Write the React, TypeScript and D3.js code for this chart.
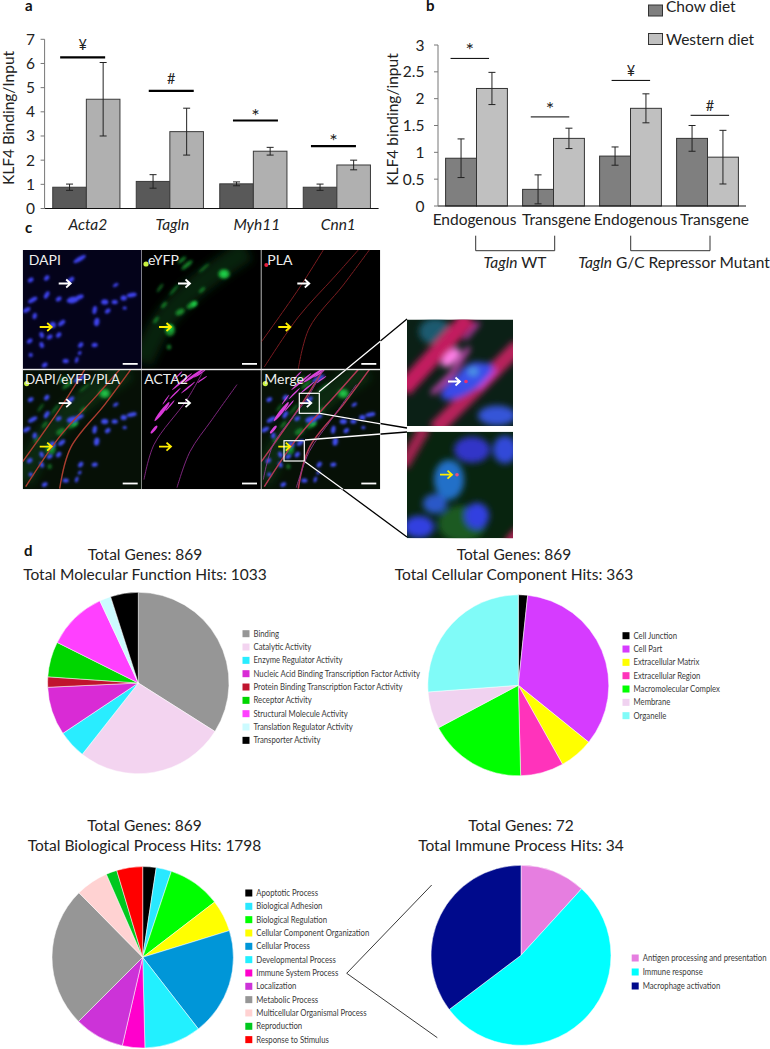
import React from "react";
import * as d3 from "d3";

// ---------- data ----------
const genesA = ["Acta2", "Tagln", "Myh11", "Cnn1"];
const chowA = [0.88, 1.12, 1.02, 0.88];
const westernA = [4.52, 3.18, 2.37, 1.8];
const chowErrA = [0.13, 0.28, 0.08, 0.13];
const westernErrA = [1.52, 0.97, 0.16, 0.2];
const sigA = ["¥", "#", "*", "*"];
const sigLevelA = [6.25, 4.87, 3.64, 2.58];

const groupsB = ["Endogenous", "Transgene", "Endogenous ", "Transgene "];
const chowB = [0.89, 0.31, 0.93, 1.26];
const westernB = [2.19, 1.26, 1.82, 0.91];
const chowErrB = [0.36, 0.27, 0.17, 0.24];
const westernErrB = [0.3, 0.19, 0.27, 0.5];
const sigB = ["*", "*", "¥", "#"];
const sigLevelB = [2.75, 1.66, 2.34, 1.69];

const mfNames = ["Binding", "Catalytic Activity", "Enzyme Regulator Activity", "Nucleic Acid Binding Transcription Factor Activity", "Protein Binding Transcription Factor Activity", "Receptor Activity", "Structural Molecule Activity", "Translation Regulator Activity", "Transporter Activity"];
const mfHits = [351, 275, 52, 89, 19, 65, 110, 21, 51];
const mfColors = ["#969696", "#f3d4f0", "#29edff", "#d92bd5", "#c0142e", "#00d600", "#ff40ff", "#ccfbff", "#000000"];

const ccNames = ["Cell Junction", "Cell Part", "Extracellular Matrix", "Extracellular Region", "Macromolecular Complex", "Membrane", "Organelle"];
const ccHits = [6, 124, 22, 28, 64, 24, 95];
const ccColors = ["#000000", "#d63bff", "#ffff00", "#ff33bb", "#00ff00", "#f0d2f0", "#80fbf8"];

const bpNames = ["Apoptotic Process", "Biological Adhesion", "Biological Regulation", "Cellular Component Organization", "Cellular Process", "Developmental Process", "Immune System Process", "Localization", "Metabolic Process", "Multicellular Organismal Process", "Reproduction", "Response to Stimulus"];
const bpHits = [43, 49, 170, 102, 346, 182, 72, 160, 451, 105, 35, 83];
const bpColors = ["#000000", "#2ae8ff", "#00ff00", "#ffff00", "#0096d8", "#22f0ff", "#ff00cc", "#cc33d8", "#969696", "#ffd2d2", "#00c81e", "#ff0000"];

const imNames = ["Antigen processing and presentation", "Immune response", "Macrophage activation"];
const imHits = [4, 18, 12];
const imColors = ["#e67ee0", "#00ffff", "#000a8c"];

// micrograph blobs: x, y, rx, ry, rotation (panel units)
type Blob = number[];
const nuclei: Blob[] = [[57,9,7,2,-30],[8,30,3,2,-30],[24,28,3,2,-50],[48,30,4,2,-40],[24,45,4,2,-60],[10,50,5,2,-30],[36,49,3,2,-30],[50,50,6,3,-10],[57,47,4,2,-20],[82,52,3.5,2.5,0],[92,52,3,2,0],[101,48,3,2.5,0],[109,45,5,2,-10],[93,35,3,1.5,-30],[72,60,2,4,10],[85,61,3,2,-40],[4,60,4,2,-30],[12,66,2,3,10],[30,75,3,3,0],[39,73,4,2,-40],[19,85,2,3,-20],[27,87,3,2,-30],[36,85,3,2,-50],[74,72,2.5,4,10],[58,95,3,2,-50],[72,95,3,2,-10],[57,103,2,1.5,-50],[19,95,2,3,-20],[7,91,3,2,-40],[43,111,3,2,0],[54,110,1.5,3,20],[22,115,3,2,-30],[8,105,2,2,0],[102,58,2,1.5,0]];
const greenBlobs: Blob[] = [[82,24,6,5,0],[50,55,6,3,-30],[38,62,5,3,-30],[28,80,5,6,0],[27,97,2,2.5,0],[45,15,7,2,-40],[22,55,4,1.5,-50],[40,10,5,1.5,-40],[14,70,4,1.5,-55],[60,40,4,1.5,-45],[32,40,7,1,-50],[18,38,5,1,-55],[62,18,7,1,-40]];
const greenBright: Blob[] = [[82,24,3.5,3,0],[52,54,3,2,-30],[28,78,2.5,3,0]];
const greenBand: number[][] = [[0, 112], [22, 70], [50, 40], [105, 0]];
const redCurves: number[][][] = [
  [[0, 92], [38, 38], [62, 0]],
  [[3, 117], [37, 67], [73, 27], [97, 0]],
  [[37, 119], [48, 78], [82, 35], [108, 0]],
];
const magentaStreaks: Blob[] = [[20,42,12,1.8,-52],[12,60,5,1.4,-50],[40,12,13,1,-40],[52,6,12,1.3,-35],[33,24,8,0.7,-45],[46,18,9,0.7,-40],[28,36,7,0.7,-50],[58,4,7,0.7,-35],[36,6,6,0.6,-45],[24,30,6,0.6,-55],[60,10,6,0.6,-35]];
const magentaCurves: number[][][] = [
  [[2, 110], [12, 75], [45, 30], [62, 0]],
  [[35, 118], [48, 82], [70, 50], [95, 15]],
];
const panelTitles = ["DAPI", "eYFP", "PLA", "DAPI/eYFP/PLA", "ACTA2", "Merge"];
const panelTitleX = [6, 6, 6, 2.3, 2.3, 3];

// ---------- layout helpers ----------
const font = "Lato, 'Open Sans', sans-serif";
const curve = d3.line<number[]>().x(d => d[0]).y(d => d[1]).curve(d3.curveCatmullRom);

function Bars(p: any) {
  const y = d3.scaleLinear().domain([0, p.max]).range([p.y0, p.y1]);
  const x0 = d3.scaleBand<string>().domain(p.cats).range([p.x0, p.x1]);
  const bw = p.barW;
  const ticks = d3.range(0, p.max + 0.001, p.step);
  return (
    <g fontFamily={font}>
      {p.cats.map((c: string, i: number) => {
        const cx = x0(c)! + x0.bandwidth() / 2;
        const tops = [p.chow[i], p.west[i]];
        const errs = [p.chowErr[i], p.westErr[i]];
        const star = p.sig[i] === "*";
        return (
          <g key={c}>
            {tops.map((v: number, k: number) => {
              const bx = cx - bw + k * bw;
              return <rect key={k} x={bx} y={y(v)} width={bw} height={p.y0 - y(v)} fill={k ? p.colW : p.colC} stroke={p.barStroke} strokeWidth={p.barSW} />;
            })}
            {tops.map((v: number, k: number) => {
              const ex = cx - bw / 2 + k * bw;
              const up = y(v + errs[k]), dn = y(v - errs[k]);
              return (
                <path key={k} d={`M${ex - 3.5},${up}H${ex + 3.5}M${ex},${up}V${dn}M${ex - 3.5},${dn}H${ex + 3.5}`} stroke="#222" strokeWidth={1} fill="none" />
              );
            })}
            <line x1={cx + p.sigDx[i] - p.sigW / 2} x2={cx + p.sigDx[i] + p.sigW / 2} y1={y(p.sigLevel[i])} y2={y(p.sigLevel[i])} stroke="#000" strokeWidth={p.sigSW} />
            <text x={cx + p.sigDx[i]} y={y(p.sigLevel[i]) + (star ? p.starDy : p.symDy)} textAnchor="middle" fontSize={star ? 20 : 14.5} fill="#222">{p.sig[i]}</text>
          </g>
        );
      })}
      <line x1={p.x0} x2={p.x1} y1={p.y0} y2={p.y0} stroke="#111" strokeWidth={1.2} />
      <line x1={p.x0} x2={p.x0} y1={p.y0} y2={p.y1} stroke="#777" strokeWidth={1} />
      {ticks.map((t: number) => (
        <g key={t}>
          <line x1={p.x0 - 4} x2={p.x0} y1={y(t)} y2={y(t)} stroke="#777" />
          <text x={p.x0 - p.labelGap} y={y(t) + 5.5} textAnchor="end" fontSize={15.5} fill="#222">{t}</text>
        </g>
      ))}
      <text transform={`translate(${p.titleX},${(p.y0 + p.y1) / 2 + p.titleDy}) rotate(-90)`} textAnchor="middle" fontSize={15.5} fill="#222">{p.title}</text>
    </g>
  );
}

function Pie(p: any) {
  const arcs = d3.pie<number>().sort(null)(p.hits);
  const arc = d3.arc<d3.PieArcDatum<number>>().innerRadius(0).outerRadius(p.r);
  return (
    <g fontFamily={font}>
      <text x={p.tx} y={p.ty} textAnchor="middle" fontSize={15.5} fill="#222">{p.t1}</text>
      <text x={p.tx} y={p.ty + 20} textAnchor="middle" fontSize={15.5} fill="#222">{p.t2}</text>
      <g transform={`translate(${p.cx},${p.cy})`}>
        {arcs.map((a, i) => <path key={i} d={arc(a)!} fill={p.colors[i]} stroke="#fff" strokeWidth={0.5} />)}
      </g>
      {p.names.map((n: string, i: number) => (
        <g key={n}>
          <rect x={p.lx} y={p.ly + i * p.step - 3.5} width={7} height={7} fill={p.colors[i]} />
          <text transform={`translate(${p.lx + 11},${p.ly + i * p.step + 3}) scale(0.9,1)`} fontSize={8.6} fill="#3a3a3a">{n}</text>
        </g>
      ))}
    </g>
  );
}

const blobs = (list: Blob[], fill: string, op = 1) =>
  list.map((b, i) => (
    <ellipse key={i} cx={0} cy={0} rx={b[2]} ry={b[3]} fill={fill} opacity={op} transform={`translate(${b[0]},${b[1]}) rotate(${b[4]})`} />
  ));

const Blue = () => (
  <g>
    <g filter="url(#b2)" opacity={0.35}>{blobs(nuclei, "#2a30c0")}</g>
    <g filter="url(#b1)">{blobs(nuclei, "#3a3fe8")}</g>
  </g>
);
const Green = ({ k = 1 }: { k?: number }) => (
  <g>
    <path d={curve(greenBand)!} stroke="#0a3a14" strokeWidth={22} fill="none" opacity={0.6 * k} filter="url(#b3)" />
    <g filter="url(#b15)">{blobs(greenBlobs, "#138a2c", k)}</g>
    <g filter="url(#b15)">{blobs(greenBright, "#1fd24a", k)}</g>
    <circle cx={4} cy={14} r={2.6} fill="#c8f040" filter="url(#b05)" />
  </g>
);
const Red = ({ w = 1, c = "#b3242a" }: { w?: number; c?: string }) => (
  <g filter="url(#b05)">
    {redCurves.map((r, i) => <path key={i} d={curve(r as any)!} stroke={c} strokeWidth={w} fill="none" />)}
  </g>
);
const Magenta = () => (
  <g>
    <g filter="url(#b05)">{blobs(magentaStreaks, "#d838d8")}</g>
    <g filter="url(#b05)">{magentaCurves.map((c, i) => <path key={i} d={curve(c as any)!} stroke="#8a2a8a" strokeWidth={0.9} fill="none" />)}</g>
  </g>
);
const layers = [
  <Blue />,
  <Green />,
  <g><Red w={1} c="#7a1c20" /><circle cx={5} cy={15} r={2} fill="#e8203c" /></g>,
  <g><Green k={0.8} /><Blue /><Red w={1.4} c="#a8302a" /></g>,
  <Magenta />,
  <g><Green k={0.8} /><Blue /><Red w={1.5} c="#b02c50" /><Magenta /></g>,
];

function Arrow({ x, y, c, len = 12 }: any) {
  return <path d={`M${x},${y}H${x + len}M${x + len - 4.5},${y - 4}L${x + len},${y}L${x + len - 4.5},${y + 4}`} stroke={c} strokeWidth={1.8} fill="none" />;
}

const PW = 119.3, PH = 119.6, PX = 22.7, PY = 250;

function Micro() {
  return (
    <g fontFamily={font}>
      {panelTitles.map((t, i) => {
        const px = PX + (i % 3) * PW, py = PY + Math.floor(i / 3) * PH;
        return (
          <g key={t} transform={`translate(${px},${py})`}>
            <g clipPath="url(#panelClip)" style={{ isolation: "isolate" }}>
              <rect width={PW} height={PH} fill={i === 0 ? "#04031a" : i >= 3 && i !== 4 ? "#061006" : "#000"} />
              <g style={{ mixBlendMode: "screen" }}>{layers[i]}</g>
            </g>
            <text x={panelTitleX[i]} y={i >= 3 ? 14 : 15} fontSize={i === 3 ? 13.4 : 14} fill="#eee">{t}</text>
            <Arrow x={i === 5 ? 38 : 36} y={33.5} c="#fff" />
            <Arrow x={17} y={77} c="#ffee00" />
            <rect x={100} y={113} width={15} height={1.8} fill="#fff" />
          </g>
        );
      })}
      <rect x={PX} y={PY + PH - 0.8} width={PW * 3} height={1.4} fill="#eee" />
      <rect x={299.3} y={393.3} width={20} height={20} fill="none" stroke="#fff" strokeWidth={1.2} />
      <rect x={284} y={440.7} width={20.3} height={20.3} fill="none" stroke="#fff" strokeWidth={1.2} />
      {/* connectors */}
      <path d="M319,391.7L407,319M320,413.3L407,428M305,440L407,432M305,461.7L407,537" stroke="#000" strokeWidth={1.3} fill="none" />
      <path d="M319,391.7L380.7,341M320,413.3L380.7,423.8M305,440L380.7,434M305,461.7L343,489.3" stroke="#fff" strokeWidth={1.3} fill="none" />
      {/* inset 1 */}
      <g transform="translate(407,319.5)">
        <g clipPath="url(#insetClip)">
          <rect width={106} height={106.5} fill="#0b2016" />
          <g filter="url(#b25)">
            <ellipse cx={28} cy={12} rx={16} ry={13} fill="#1a5a70" />
            <path d="M-4,70L62,-2" stroke="#c21a5e" strokeWidth={17} />
            <path d="M28,110L112,26" stroke="#b8205c" strokeWidth={15} />
            <ellipse cx={0} cy={0} rx={30} ry={11} fill="#3a4ae8" transform="translate(60,62) rotate(-32)" />
            <ellipse cx={0} cy={0} rx={17} ry={12} fill="#3a50e8" transform="translate(66,56) rotate(-30)" />
            <ellipse cx={90} cy={96} rx={19} ry={10} fill="#3555d8" />
            <ellipse cx={66} cy={52} rx={5} ry={4} fill="#4fa0e0" />
            <path d="M25,74L45,54L62,28" stroke="#f050d8" strokeWidth={4} fill="none" />
            <ellipse cx={0} cy={0} rx={12} ry={6} fill="#ff80e8" transform="translate(44,38) rotate(-45)" />
            <path d="M58,20L72,3" stroke="#e040c8" strokeWidth={3} />
            <path d="M72,70L90,50" stroke="#e040d0" strokeWidth={3} />
          </g>
          <circle cx={59} cy={62} r={1.8} fill="#e83070" />
          <Arrow x={41} y={62} c="#fff" />
        </g>
      </g>
      {/* inset 2 */}
      <g transform="translate(407,431.7)">
        <g clipPath="url(#insetClip)">
          <rect width={106} height={106.5} fill="#08240f" />
          <g filter="url(#b25)">
            <path d="M18,-4L-4,34" stroke="#a02050" strokeWidth={12} />
            <path d="M112,98L100,112" stroke="#c0205c" strokeWidth={8} />
            <ellipse cx={55} cy={92} rx={24} ry={18} fill="#1a5a24" />
            <ellipse cx={65} cy={18} rx={18} ry={13} fill="#3036c8" />
            <ellipse cx={98} cy={18} rx={12} ry={14} fill="#3048d8" />
            <ellipse cx={42} cy={48} rx={15} ry={20} fill="#2470c8" />
            <ellipse cx={28} cy={72} rx={12} ry={10} fill="#2a58c8" />
            <ellipse cx={12} cy={95} rx={15} ry={11} fill="#3040e0" />
            <ellipse cx={70} cy={84} rx={12} ry={13} fill="#3040e0" />
          </g>
          <circle cx={50} cy={43} r={1.8} fill="#e85080" />
          <Arrow x={33} y={43} c="#ffee00" />
        </g>
      </g>
    </g>
  );
}

export default function App() {
  const xa = d3.scaleBand<string>().domain(genesA).range([44.6, 378.6]);
  const xb = d3.scaleBand<string>().domain(groupsB).range([438, 746]);
  return (
    <svg width={770} height={1049} style={{ position: "absolute", left: 0, top: 0, background: "#fff" }}>
      <defs>
        <clipPath id="panelClip"><rect width={PW - 0.5} height={PH} /></clipPath>
        <clipPath id="insetClip"><rect width={106} height={106.5} /></clipPath>
        <filter id="b05" x="-30%" y="-30%" width="160%" height="160%"><feGaussianBlur stdDeviation={0.45} /></filter>
        <filter id="b1" x="-10%" y="-10%" width="120%" height="120%"><feGaussianBlur stdDeviation={0.9} /></filter>
        <filter id="b15" x="-20%" y="-20%" width="140%" height="140%"><feGaussianBlur stdDeviation={1.6} /></filter>
        <filter id="b2" x="-20%" y="-20%" width="140%" height="140%"><feGaussianBlur stdDeviation={2.2} /></filter>
        <filter id="b25" x="-20%" y="-20%" width="140%" height="140%"><feGaussianBlur stdDeviation={3} /></filter>
        <filter id="b3" x="-30%" y="-30%" width="160%" height="160%"><feGaussianBlur stdDeviation={5} /></filter>
      </defs>

      <g fontFamily={font} fontWeight={700} fontSize={15} fill="#111">
        <text x={25} y={11}>a</text>
        <text x={426} y={11}>b</text>
        <text x={25} y={233}>c</text>
        <text x={24} y={556}>d</text>
      </g>

      <Bars cats={genesA} chow={chowA} west={westernA} chowErr={chowErrA} westErr={westernErrA} sig={sigA} sigLevel={sigLevelA}
        max={7} step={1} x0={44.6} x1={378.6} y0={208.5} y1={39.3} barW={33.6} colC="#595959" colW="#b0b0b0" barStroke="#3a3a3a" barSW={1}
        sigDx={[-3.7, 1.4, 2.1, -3.4]} sigW={45} sigSW={2.2} starDy={2} symDy={-7} labelGap={9.5} title="KLF4 Binding/Input" titleX={14} titleDy={-6} />
      <g fontFamily={font} fontStyle="italic" fontSize={15.5} fill="#222" textAnchor="middle">
        {genesA.map((g, i) => (
          <text key={g} x={xa(g)! + xa.bandwidth() / 2 + [1.5, 2.5, 3.5, 1.5][i]} y={230}>{g}</text>
        ))}
      </g>

      <Bars cats={groupsB} chow={chowB} west={westernB} chowErr={chowErrB} westErr={westernErrB} sig={sigB} sigLevel={sigLevelB}
        max={3} step={0.5} x0={438} x1={746} y0={206} y1={45} barW={30.9} colC="#7f7f7f" colW="#c0c0c0" barStroke="#333" barSW={1}
        sigDx={[-6.7, -3.5, 0.35, 2.35]} sigW={38.5} sigSW={1} starDy={-1} symDy={-4.5} labelGap={13.5} title="KLF4 binding/input" titleX={398} titleDy={-6} />
      <g fontFamily={font} fontSize={15.5} fill="#222" textAnchor="middle">
        {groupsB.map((g, i) => (
          <text key={g} x={xb(g)! + xb.bandwidth() / 2 + [-2, 3, 5, 7][i]} y={225}>{g}</text>
        ))}
        <text x={515} y={268}><tspan fontStyle="italic">Tagln</tspan> WT</text>
        <text x={674} y={268}><tspan fontStyle="italic">Tagln</tspan> G/C Repressor Mutant</text>
      </g>
      <path d="M475.7,235.7V250.7H554.7V235.7M630.7,235.7V250.7H710V235.7" fill="none" stroke="#333" strokeWidth={1} />
      <g fontFamily={font} fontSize={15.5} fill="#222">
        <rect x={648.5} y={5} width={14} height={11} fill="#7f7f7f" stroke="#333" />
        <text x={666} y={12}>Chow diet</text>
        <rect x={648.5} y={33.5} width={14} height={11} fill="#c0c0c0" stroke="#333" />
        <text x={666} y={45}>Western diet</text>
      </g>

      <Micro />

      <Pie t1="Total Genes: 869" t2="Total Molecular Function Hits: 1033" tx={145} ty={560} hits={mfHits} names={mfNames} colors={mfColors} cx={138.3} cy={683} r={90.7} lx={242.5} ly={633.7} step={13.33} />
      <Pie t1="Total Genes: 869" t2="Total Cellular Component Hits: 363" tx={514} ty={560} hits={ccHits} names={ccNames} colors={ccColors} cx={518.3} cy={685.3} r={90.5} lx={622.5} ly={635.7} step={13.33} />
      <Pie t1="Total Genes: 869" t2="Total Biological Process Hits: 1798" tx={144.5} ty={831} hits={bpHits} names={bpNames} colors={bpColors} cx={142.7} cy={957.3} r={90.7} lx={245.3} ly={893} step={13.33} />
      <Pie t1="Total Genes: 72" t2="Total Immune Process Hits: 34" tx={521} ty={831} hits={imHits} names={imNames} colors={imColors} cx={521} cy={955.3} r={90} lx={631.7} ly={958} step={14} />
      <path d="M431.7,885L346.7,973.3L437.3,1037.7" fill="none" stroke="#222" strokeWidth={0.9} />
    </svg>
  );
}
